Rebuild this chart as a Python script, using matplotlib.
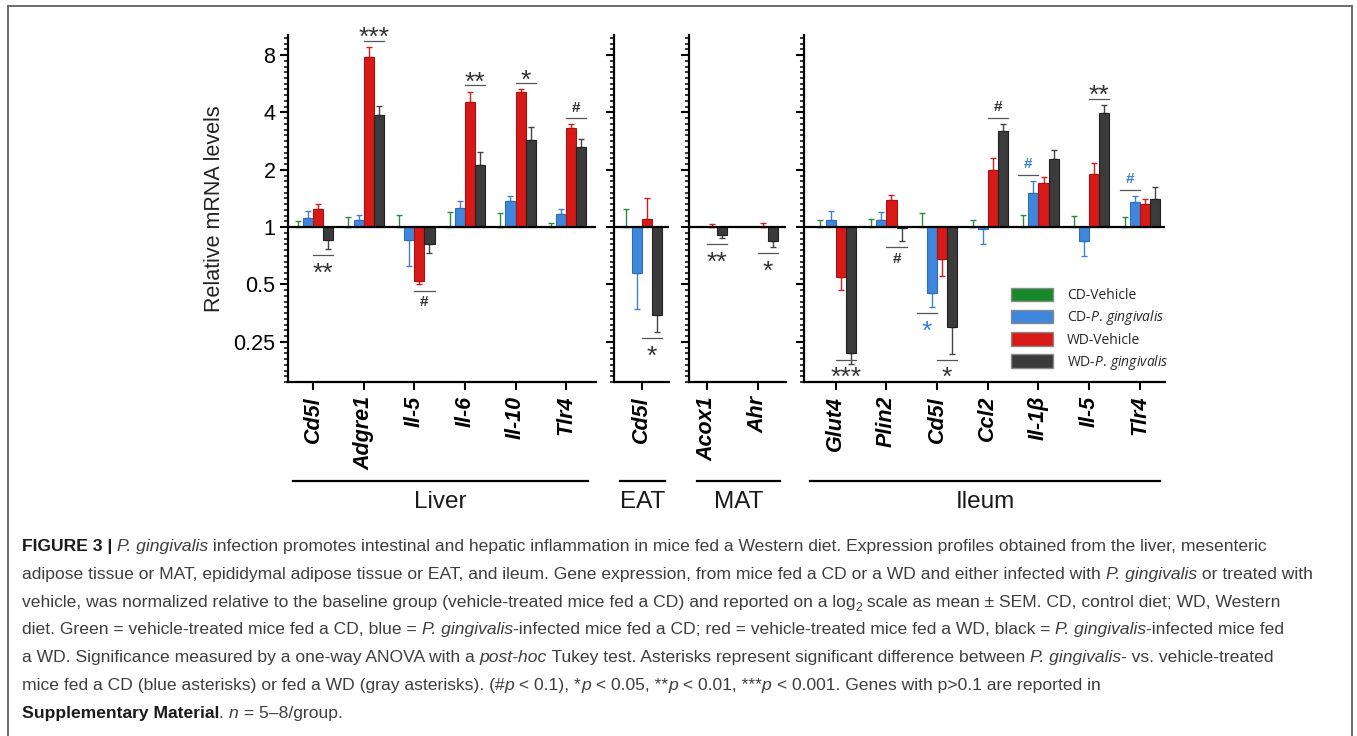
import numpy as np
import matplotlib
matplotlib.use("Agg")
import matplotlib.pyplot as plt
from matplotlib import font_manager as fm
from matplotlib.lines import Line2D
from matplotlib.patches import Patch

# fold change relative to CD-Vehicle, mean and SEM
liver_genes = ["Cd5l", "Adgre1", "Il-5", "Il-6", "Il-10", "Tlr4"]
liver_cd_veh = [1.0, 1.0, 1.0, 1.0, 1.0, 1.0]
liver_cd_veh_sem = [0.072, 0.125, 0.165, 0.206, 0.189, 0.057]
liver_cd_pg = [1.12, 1.094, 0.858, 1.257, 1.366, 1.173]
liver_cd_pg_sem = [0.094, 0.071, 0.234, 0.109, 0.098, 0.076]
liver_wd_veh = [1.24, 7.78, 0.521, 4.56, 5.10, 3.32]
liver_wd_veh_sem = [0.089, 1.035, 0.021, 0.574, 0.18, 0.14]
liver_wd_pg = [0.858, 3.86, 0.818, 2.13, 2.85, 2.62]
liver_wd_pg_sem = [0.09, 0.486, 0.086, 0.349, 0.516, 0.288]
liver_sig = [(0, "wd", "**"), (1, "wd", "***"), (2, "wd", "#"),
             (3, "wd", "**"), (4, "wd", "*"), (5, "wd", "#")]

eat_genes = ["Cd5l"]
eat_cd_veh = [1.0]
eat_cd_veh_sem = [0.249]
eat_cd_pg = [0.578]
eat_cd_pg_sem = [0.204]
eat_wd_veh = [1.106]
eat_wd_veh_sem = [0.318]
eat_wd_pg = [0.344]
eat_wd_pg_sem = [0.063]
eat_sig = [(0, "wd", "*")]

mat_genes = ["Acox1", "Ahr"]
mat_cd_veh = [1.0, 1.0]
mat_cd_veh_sem = [0.0, 0.0]
mat_cd_pg = [1.0, 1.0]
mat_cd_pg_sem = [0.0, 0.0]
mat_wd_veh = [1.0, 1.0]
mat_wd_veh_sem = [0.035, 0.057]
mat_wd_pg = [0.904, 0.841]
mat_wd_pg_sem = [0.024, 0.056]
mat_sig = [(0, "wd", "**"), (1, "wd", "*")]

ileum_genes = ["Glut4", "Plin2", "Cd5l", "Ccl2", "Il-1\u03b2", "Il-5", "Tlr4"]
ileum_cd_veh = [1.0, 1.0, 1.0, 1.0, 1.0, 1.0, 1.0]
ileum_cd_veh_sem = [0.094, 0.106, 0.181, 0.094, 0.165, 0.141, 0.125]
ileum_cd_pg = [1.094, 1.094, 0.450, 0.979, 1.516, 0.847, 1.347]
ileum_cd_pg_sem = [0.12, 0.103, 0.068, 0.167, 0.225, 0.145, 0.107]
ileum_wd_veh = [0.547, 1.395, 0.678, 2.0, 1.705, 1.892, 1.329]
ileum_wd_veh_sem = [0.077, 0.079, 0.127, 0.313, 0.135, 0.266, 0.075]
ileum_wd_pg = [0.219, 0.99, 0.299, 3.20, 2.27, 3.97, 1.40]
ileum_wd_pg_sem = [0.027, 0.143, 0.084, 0.28, 0.26, 0.41, 0.22]
ileum_sig = [(0, "wd", "***"), (1, "wd", "#"), (2, "cd", "*"), (2, "wd", "*"),
             (3, "wd", "#"), (4, "cd", "#"), (5, "wd", "**"), (6, "cd", "#")]

yticks = [0.25, 0.5, 1, 2, 4, 8]
ytick_labels = ["0.25", "0.5", "1", "2", "4", "8"]

# styling
W, H = 1357, 736
AX_TOP, AX_BOT = 35, 382
BAR_W = 0.2
OFFSETS = (np.arange(4) - 1.5) * BAR_W
bar_colors = ["#17892b", "#3f87dc", "#d71a17", "#3b3b3b"]
edge_colors = ["#0f6b1f", "#2f6db8", "#a81210", "#222222"]
err_colors = ["#2e8b3e", "#3f80d0", "#cc2020", "#444444"]
SIG_GRAY = "#333333"
SIG_BLUE = "#3a80d6"

names = {f.name for f in fm.fontManager.ttflist}
NARROW = "Liberation Sans Narrow" if "Liberation Sans Narrow" in names else "Liberation Sans"

plt.rcParams["font.family"] = ["Liberation Sans", "DejaVu Sans"]
plt.rcParams["mathtext.fontset"] = "custom"
plt.rcParams["mathtext.rm"] = "Open Sans"
plt.rcParams["mathtext.it"] = "Open Sans:italic"

fig = plt.figure(figsize=(W / 100, H / 100), dpi=100)


def draw_panel(x0, x1, xlim, genes, means, sems, sig, tissue, tissue_span,
               show_labels=False):
    ax = fig.add_axes([x0 / W, (H - AX_BOT) / H, (x1 - x0) / W, (AX_BOT - AX_TOP) / H])
    ax.set_yscale("log", base=2)
    x = np.arange(len(genes))
    for k in range(4):
        v = np.asarray(means[k], dtype=float)
        s = np.asarray(sems[k], dtype=float)
        ax.bar(x + OFFSETS[k], v - 1, bottom=1, width=BAR_W, color=bar_colors[k],
               edgecolor=edge_colors[k], linewidth=0.8, zorder=2)
        up = v >= 1
        lower = np.where(up, 0, s)
        upper = np.where(up, s, 0)
        m = s > 0
        if m.any():
            ax.errorbar((x + OFFSETS[k])[m], v[m], yerr=[lower[m], upper[m]],
                        fmt="none", ecolor=err_colors[k], elinewidth=1.0,
                        capsize=2.5, capthick=1.0, zorder=1)
    ax.axhline(1, color="black", lw=1.6, zorder=3)

    ax.set_xlim(*xlim)
    ax.set_ylim(2 ** -2.7, 2 ** 3.35)
    for sp in ["top", "right"]:
        ax.spines[sp].set_visible(False)
    for sp in ["left", "bottom"]:
        ax.spines[sp].set_linewidth(1.6)

    ax.set_yticks(yticks, ytick_labels if show_labels else [""] * len(yticks))
    ax.set_yticks(2 ** (np.arange(-27, 34) / 10), minor=True)
    ax.yaxis.set_minor_formatter(plt.NullFormatter())
    ax.tick_params(axis="y", which="major", length=6, width=1.5, labelsize=15.5, pad=3)
    ax.tick_params(axis="y", which="minor", length=3, width=1.1)
    ax.set_xticks(x, genes, rotation=90, fontstyle="italic", fontweight="bold",
                  fontsize=15.5)
    ax.tick_params(axis="x", length=6, width=1.5, pad=4)

    # significance marks
    ymin = 2 ** -2.7
    for gi, cmp, txt in sig:
        a, b = (2, 3) if cmp == "wd" else (0, 1)
        color = SIG_GRAY if cmp == "wd" else SIG_BLUE
        xa = gi + OFFSETS[a] - BAR_W / 2
        xb = gi + OFFSETS[b] + BAR_W / 2
        va_, sa = means[a][gi], sems[a][gi]
        vb, sb = means[b][gi], sems[b][gi]
        ta = va_ + sa if va_ >= 1 else va_ - sa
        tb = vb + sb if vb >= 1 else vb - sb
        above = vb >= 1
        if above:
            ly = max(ta, tb, 1) * 2 ** 0.11
        else:
            ly = max(min(ta, tb) * 2 ** -0.11, ymin * 2 ** 0.39)
        ax.plot([xa, xb], [ly, ly], color="#555555", lw=0.9, zorder=4)
        if txt == "#":
            off_px = 6.6 if above else -15.4
            fs, fw = 11, "bold"
        else:
            off_px = -4.5 if above else -25.5
            fs, fw = 19, "normal"
        ax.annotate(txt, xy=((xa + xb) / 2, ly), xytext=(0, off_px * 0.72),
                    textcoords="offset points", ha="center", va="baseline",
                    fontsize=fs, fontweight=fw, color=color)

    # tissue underline + name
    ax.plot(tissue_span, [-0.285, -0.285], transform=ax.transAxes, color="black",
            lw=1.6, clip_on=False)
    ax.text(sum(tissue_span) / 2, -0.345, tissue, transform=ax.transAxes,
            ha="center", va="center", fontsize=17.5, family=NARROW, color="#1a1a1a")
    return ax


ax_liver = draw_panel(288, 596, (-0.494, 5.59), liver_genes,
                      [liver_cd_veh, liver_cd_pg, liver_wd_veh, liver_wd_pg],
                      [liver_cd_veh_sem, liver_cd_pg_sem, liver_wd_veh_sem, liver_wd_pg_sem],
                      liver_sig, "Liver", [0.016, 0.974], show_labels=True)
ax_liver.set_ylabel("Relative mRNA levels", fontsize=15.5, color="#222222", labelpad=6)

draw_panel(614, 669, (-0.547, 0.54), eat_genes,
           [eat_cd_veh, eat_cd_pg, eat_wd_veh, eat_wd_pg],
           [eat_cd_veh_sem, eat_cd_pg_sem, eat_wd_veh_sem, eat_wd_pg_sem],
           eat_sig, "EAT", [0.11, 0.93])

draw_panel(689, 786, (-0.362, 1.558), mat_genes,
           [mat_cd_veh, mat_cd_pg, mat_wd_veh, mat_wd_pg],
           [mat_cd_veh_sem, mat_cd_pg_sem, mat_wd_veh_sem, mat_wd_pg_sem],
           mat_sig, "MAT", [0.08, 0.94])

ax_ileum = draw_panel(804, 1165, (-0.625, 6.495), ileum_genes,
                      [ileum_cd_veh, ileum_cd_pg, ileum_wd_veh, ileum_wd_pg],
                      [ileum_cd_veh_sem, ileum_cd_pg_sem, ileum_wd_veh_sem, ileum_wd_pg_sem],
                      ileum_sig, "Ileum", [0.017, 0.986])

legend_labels = ["CD-Vehicle", r"CD-$P.\,gingivalis$", "WD-Vehicle", r"WD-$P.\,gingivalis$"]
handles = [Patch(facecolor=c, edgecolor="#8a8a8a", linewidth=1.0) for c in bar_colors]
leg = ax_ileum.legend(handles, legend_labels, loc="upper left",
                      bbox_to_anchor=(0.574, 0.272), frameon=False,
                      prop={"family": "Open Sans", "size": 10},
                      handlelength=3.0, handleheight=1.15, handletextpad=1.0,
                      labelspacing=0.36, borderpad=0, borderaxespad=0)
for t in leg.get_texts():
    t.set_color("#262626")

# frame round the figure (open at the bottom)
frame_kw = dict(transform=fig.transFigure, color="#6e6e6e", lw=1.4)
fig.add_artist(Line2D([8 / W, 8 / W], [0, 1 - 6 / H], **frame_kw))
fig.add_artist(Line2D([8 / W, 1352 / W], [1 - 6 / H, 1 - 6 / H], **frame_kw))
fig.add_artist(Line2D([1352 / W, 1352 / W], [0, 1 - 6 / H], **frame_kw))

# caption, drawn piece by piece so that italic / bold runs sit inline
CAP_COLOR = "#3d3d3d"
CAP_SIZE = 12.6
renderer = fig.canvas.get_renderer()


def caption_line(y_px, parts):
    x_px = 22
    for text, style in parts:
        kw = dict(fontsize=CAP_SIZE, color=CAP_COLOR)
        dy = 0
        if style == "i":
            kw["fontstyle"] = "italic"
        elif style == "b":
            kw["fontweight"] = "bold"
            kw["color"] = "#1a1a1a"
        elif style == "sub":
            kw["fontsize"] = CAP_SIZE * 0.7
            dy = 4
        fig.text(x_px / W, 1 - (y_px + dy) / H, text, ha="left", va="baseline", **kw)
        probe = fig.text(0, 0, text + "x", **kw)
        ref = fig.text(0, 0, "x", **kw)
        x_px += (probe.get_window_extent(renderer).width
                 - ref.get_window_extent(renderer).width)
        probe.remove()
        ref.remove()


caption = [
    [("FIGURE 3 | ", "b"), ("P. gingivalis", "i"),
     (" infection promotes intestinal and hepatic inflammation in mice fed a Western diet. "
      "Expression profiles obtained from the liver, mesenteric", "n")],
    [("adipose tissue or MAT, epididymal adipose tissue or EAT, and ileum. Gene expression, "
      "from mice fed a CD or a WD and either infected with ", "n"), ("P. gingivalis", "i"),
     (" or treated with", "n")],
    [("vehicle, was normalized relative to the baseline group (vehicle-treated mice fed a CD) "
      "and reported on a log", "n"), ("2", "sub"),
     (" scale as mean \u00b1 SEM. CD, control diet; WD, Western", "n")],
    [("diet. Green = vehicle-treated mice fed a CD, blue = ", "n"), ("P. gingivalis", "i"),
     ("-infected mice fed a CD; red = vehicle-treated mice fed a WD, black = ", "n"),
     ("P. gingivalis", "i"), ("-infected mice fed", "n")],
    [("a WD. Significance measured by a one-way ANOVA with a ", "n"), ("post-hoc", "i"),
     (" Tukey test. Asterisks represent significant difference between ", "n"),
     ("P. gingivalis", "i"), ("- vs. vehicle-treated", "n")],
    [("mice fed a CD (blue asterisks) or fed a WD (gray asterisks). (#", "n"), ("p", "i"),
     (" < 0.1), *", "n"), ("p", "i"), (" < 0.05, **", "n"), ("p", "i"),
     (" < 0.01, ***", "n"), ("p", "i"),
     (" < 0.001. Genes with p>0.1 are reported in", "n")],
    [("Supplementary Material", "b"), (". ", "n"), ("n", "i"), (" = 5\u20138/group.", "n")],
]
for i, parts in enumerate(caption):
    caption_line(551 + 27.8 * i, parts)

fig.savefig("out.png", dpi=100)
